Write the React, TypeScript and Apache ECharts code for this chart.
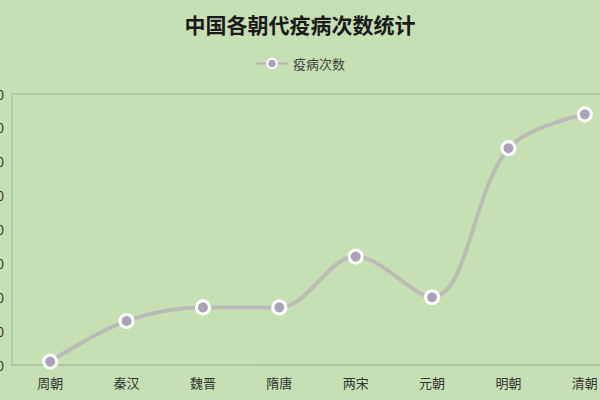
import { useEffect, useRef } from 'react';
import * as echarts from 'echarts';

const dynasties = ['周朝', '秦汉', '魏晋', '隋唐', '两宋', '元朝', '明朝', '清朝'];
const epidemicCounts = [1, 13, 17, 17, 32, 20, 64, 74];
const yTicks = { min: 0, max: 80, interval: 10 };

const FONT = '"Noto Sans CJK SC", "Noto Sans", sans-serif';

export default function App() {
  const chartRef = useRef<HTMLDivElement>(null);

  useEffect(() => {
    if (!chartRef.current) return;
    document.body.style.margin = '0';
    const chart = echarts.init(chartRef.current, undefined, { renderer: 'svg' });

    chart.setOption({
      animation: false,
      backgroundColor: '#c6e0b4',
      textStyle: { fontFamily: FONT },
      title: {
        text: '中国各朝代疫病次数统计',
        left: 'center',
        top: 8,
        textStyle: { color: '#1a1a1a', fontSize: 21, fontWeight: 'bold', fontFamily: FONT },
      },
      legend: {
        top: 52,
        left: 'center',
        itemWidth: 32,
        itemHeight: 12,
        itemGap: 10,
        textStyle: { color: '#404040', fontSize: 13, fontFamily: FONT },
        data: ['疫病次数'],
      },
      grid: {
        left: 12,
        right: -23,
        top: 94,
        bottom: 35,
        containLabel: false,
        outerBoundsMode: 'none',
        show: true,
        borderColor: '#a9c59b',
        borderWidth: 1.5,
        backgroundColor: 'transparent',
      },
      xAxis: {
        type: 'category',
        data: dynasties,
        boundaryGap: true,
        axisLine: { lineStyle: { color: '#a9c59b', width: 1.5 } },
        axisTick: { show: false },
        axisLabel: { color: '#333333', fontSize: 13, margin: 11, fontFamily: FONT },
      },
      yAxis: {
        type: 'value',
        min: yTicks.min,
        max: yTicks.max,
        interval: yTicks.interval,
        axisLine: { show: false },
        axisTick: { show: false },
        splitLine: { show: false },
        axisLabel: { color: '#333333', fontSize: 13, margin: 8, fontFamily: FONT },
      },
      series: [
        {
          name: '疫病次数',
          type: 'line',
          data: epidemicCounts,
          smooth: 0.35,
          symbol: 'circle',
          symbolSize: 13,
          lineStyle: { color: '#b9bbb4', width: 4 },
          itemStyle: { color: '#aaa2b6', borderColor: '#ffffff', borderWidth: 3 },
        },
      ],
    });

    return () => {
      chart.dispose();
    };
  }, []);

  return <div ref={chartRef} style={{ width: 600, height: 400 }} />;
}
